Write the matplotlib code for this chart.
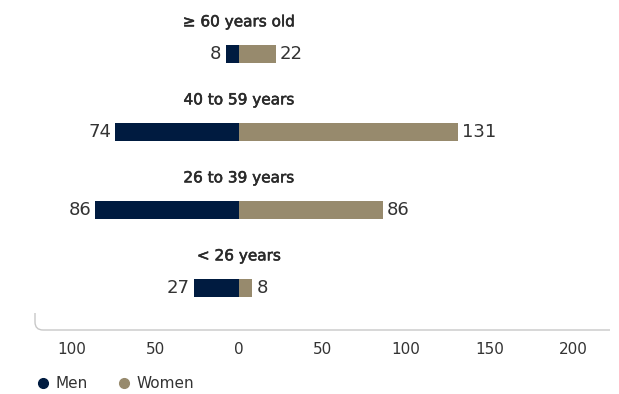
import matplotlib.pyplot as plt
import matplotlib.patheffects as pe
from matplotlib.path import Path
from matplotlib.patches import PathPatch
from matplotlib.lines import Line2D

# data (bottom to top)
groups = ["< 26 years", "26 to 39 years", "40 to 59 years", "\u2265 60 years old"]
men = [27, 86, 74, 8]
women = [8, 86, 131, 22]
tick_vals = [-100, -50, 0, 50, 100, 150, 200]

men_color = "#001b40"
women_color = "#978a6d"
text_color = "#333333"

plt.rcParams['font.family'] = ['DejaVu Sans']

W, H = 619, 394
fig = plt.figure(figsize=(W / 100, H / 100), dpi=100)
ax = fig.add_axes([35 / W, 64 / H, 575 / W, 330 / H])

y = list(range(len(groups)))
bh = 0.23
ax.barh(y, [-m for m in men], height=bh, color=men_color)
ax.barh(y, women, height=bh, color=women_color)

for i, g in enumerate(groups):
    ax.text(0, i + 0.41, g, ha='center', va='center', fontsize=11, color='#2a2a2a',
            path_effects=[pe.withStroke(linewidth=0.4, foreground='#2a2a2a')])
    ax.annotate(str(men[i]), (-men[i], i), xytext=(-3, 0), textcoords='offset points',
                ha='right', va='center', fontsize=13, color=text_color)
    ax.annotate(str(women[i]), (women[i], i), xytext=(3, 0), textcoords='offset points',
                ha='left', va='center', fontsize=13, color=text_color)

ax.set_xlim(-122, 222)
ax.set_ylim(-0.54, 3.69)
ax.set_xticks(tick_vals)
ax.set_xticklabels([str(abs(v)) for v in tick_vals], fontsize=11, color=text_color)
ax.tick_params(axis='x', length=0, pad=9)
ax.set_yticks([])
for s in ax.spines.values():
    s.set_visible(False)

# rounded axis corner
def fx(px):
    return px / W

def fy(py):
    return 1 - py / H

verts = [(fx(35), fy(313)), (fx(35), fy(322)), (fx(35), fy(330)), (fx(43), fy(330)), (fx(610), fy(330))]
codes = [Path.MOVETO, Path.LINETO, Path.CURVE3, Path.CURVE3, Path.LINETO]
fig.patches.append(PathPatch(Path(verts, codes), transform=fig.transFigure,
                             fill=False, edgecolor='#c8c8c8', lw=1))

handles = [Line2D([], [], marker='o', ls='', color=men_color, markersize=7),
           Line2D([], [], marker='o', ls='', color=women_color, markersize=7)]
fig.legend(handles, ["Men", "Women"], loc='center left', bbox_to_anchor=(14 / W, fy(384)),
           ncol=2, frameon=False, fontsize=11, handletextpad=-0.2, columnspacing=1.4,
           labelcolor=text_color)

fig.savefig("out.png", dpi=100)
